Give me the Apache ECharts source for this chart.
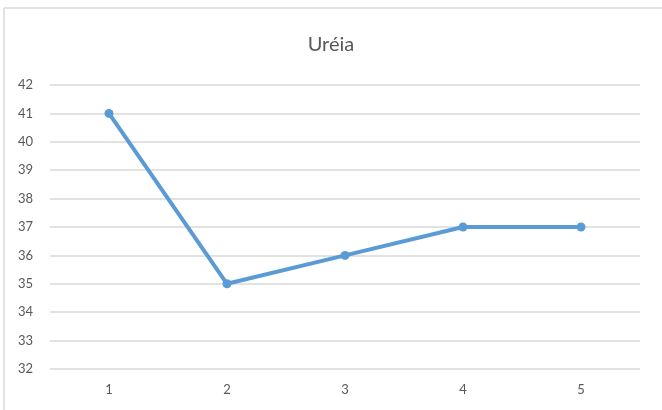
<!DOCTYPE html>
<html>
<head>
<meta charset="utf-8">
<script src="https://cdn.jsdelivr.net/npm/echarts@6/dist/echarts.min.js"></script>
<style>
  html, body { margin: 0; padding: 0; background: #fff; }
  #chart { width: 662px; height: 410px; }
</style>
</head>
<body>
<div id="chart"></div>
<script>
// Uréia measurements over five samples
const categories = ['1', '2', '3', '4', '5'];
const ureia = [41, 35, 36, 37, 37];
const yMin = 32;
const yMax = 42;

const chart = echarts.init(document.getElementById('chart'));
chart.setOption({
  animation: false,
  backgroundColor: '#ffffff',
  title: {
    text: 'Uréia',
    left: 'center',
    top: 30,
    textStyle: { fontFamily: 'Lato', fontSize: 20, fontWeight: 'normal', color: '#595959' }
  },
  graphic: [
    { type: 'line', shape: { x1: 4, y1: 8, x2: 662, y2: 8 }, style: { stroke: '#d9d9d9', lineWidth: 1.5 } },
    { type: 'line', shape: { x1: 4, y1: 8, x2: 4, y2: 410 }, style: { stroke: '#d9d9d9', lineWidth: 1.5 } }
  ],
  grid: { left: 50, right: 22, top: 85, bottom: 41 },
  xAxis: {
    type: 'category',
    data: categories,
    boundaryGap: true,
    axisLine: { show: false },
    axisTick: { show: false },
    axisLabel: { color: '#595959', fontFamily: 'Lato', fontSize: 13, margin: 14 }
  },
  yAxis: {
    type: 'value',
    min: yMin,
    max: yMax,
    interval: 1,
    axisLine: { show: false },
    axisTick: { show: false },
    axisLabel: { color: '#595959', fontFamily: 'Lato', fontSize: 13, margin: 17 },
    splitLine: { lineStyle: { color: '#d9d9d9', width: 1.5 } }
  },
  series: [{
    type: 'line',
    data: ureia,
    symbol: 'circle',
    symbolSize: 9,
    lineStyle: { color: '#5b9bd5', width: 4 },
    itemStyle: { color: '#5b9bd5' }
  }]
});
</script>
</body>
</html>
